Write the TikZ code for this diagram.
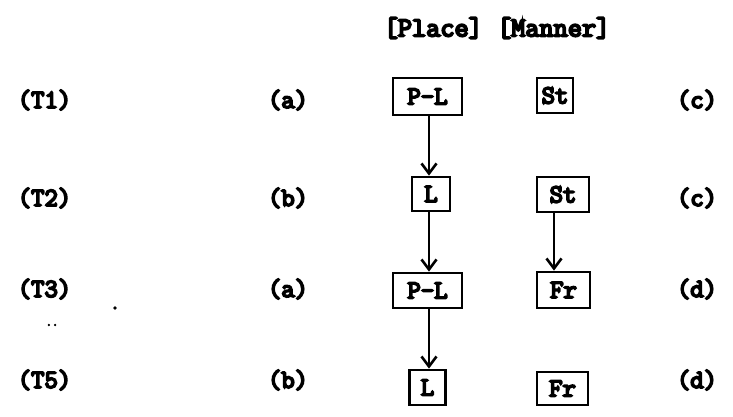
\documentclass[tikz,border=0pt]{standalone}
\usepackage{fontspec}
\setmonofont[AutoFakeBold=7]{Latin Modern Mono}
\usetikzlibrary{arrows.meta}
\begin{document}
\begin{tikzpicture}[x=1pt,y=-1pt,
  lbl/.style={font=\fontsize{26}{30}\selectfont\ttfamily\bfseries, inner sep=0pt},
  hdr/.style={font=\fontsize{27.5}{31}\selectfont\ttfamily\bfseries, inner sep=0pt},
  featbox/.style={draw, line width=2.8pt, inner sep=0pt, font=\fontsize{26}{30}\selectfont\ttfamily\bfseries},
  arr/.style={line width=2.6pt, -{Straight Barb[length=10pt,width=15pt,line width=2.6pt]}}]
\useasboundingbox (0,0) rectangle (733,416);
% header
\node[hdr] (head) at (497,28) {[Place] [Manner]};
% row labels
\node[lbl] (t1) at (44.5,100) {(T1)};
\node[lbl] (t2) at (44.5,198) {(T2)};
\node[lbl] (t3) at (44.5,289) {(T3)};
\node[lbl] (t5) at (44.5,380) {(T5)};
\node[lbl] (a1) at (288,100) {(a)};
\node[lbl] (b2) at (288,198) {(b)};
\node[lbl] (a3) at (288,289) {(a)};
\node[lbl] (b5) at (288,380) {(b)};
\node[lbl] (c1) at (697,100) {(c)};
\node[lbl] (c2) at (697,198) {(c)};
\node[lbl] (d3) at (697,289) {(d)};
\node[lbl] (d5) at (697,380) {(d)};
% stray marks
\fill (115,308) circle (1.8);
\node[inner sep=0pt, font=\fontsize{12}{14}\selectfont\ttfamily\bfseries] (dots) at (52,325) {..};
% feature boxes
\node[featbox, minimum width=69pt, minimum height=37pt] (pl1) at (427.5,96.5) {P-L};
\node[featbox, minimum width=36pt, minimum height=35pt] (st1) at (555,95.5) {St};
\node[featbox, minimum width=38pt, minimum height=34pt] (l2) at (431,194) {L};
\node[featbox, minimum width=52pt, minimum height=35pt] (st2) at (563,194.5) {St};
\node[featbox, minimum width=69pt, minimum height=35pt] (pl3) at (427.5,290.5) {P-L};
\node[featbox, minimum width=53pt, minimum height=36pt] (fr3) at (563.5,290) {Fr};
\node[featbox, minimum width=36pt, minimum height=35pt] (l4) at (427.5,387.5) {L};
\node[featbox, minimum width=51pt, minimum height=33pt] (fr4) at (562.5,388.5) {Fr};
% connectors
\draw[arr] ([xshift=1.5pt]pl1.south) -- ([xshift=1.5pt]pl1.south |- l2.north);
\draw[arr] ([xshift=-2pt]l2.south) -- ([xshift=-2pt]l2.south |- pl3.north);
\draw[arr] ([xshift=-9pt]st2.south) -- ([xshift=-9pt]st2.south |- fr3.north);
\draw[arr] ([xshift=1.5pt]pl3.south) -- ([xshift=1.5pt]pl3.south |- l4.north);
\end{tikzpicture}
\end{document}
